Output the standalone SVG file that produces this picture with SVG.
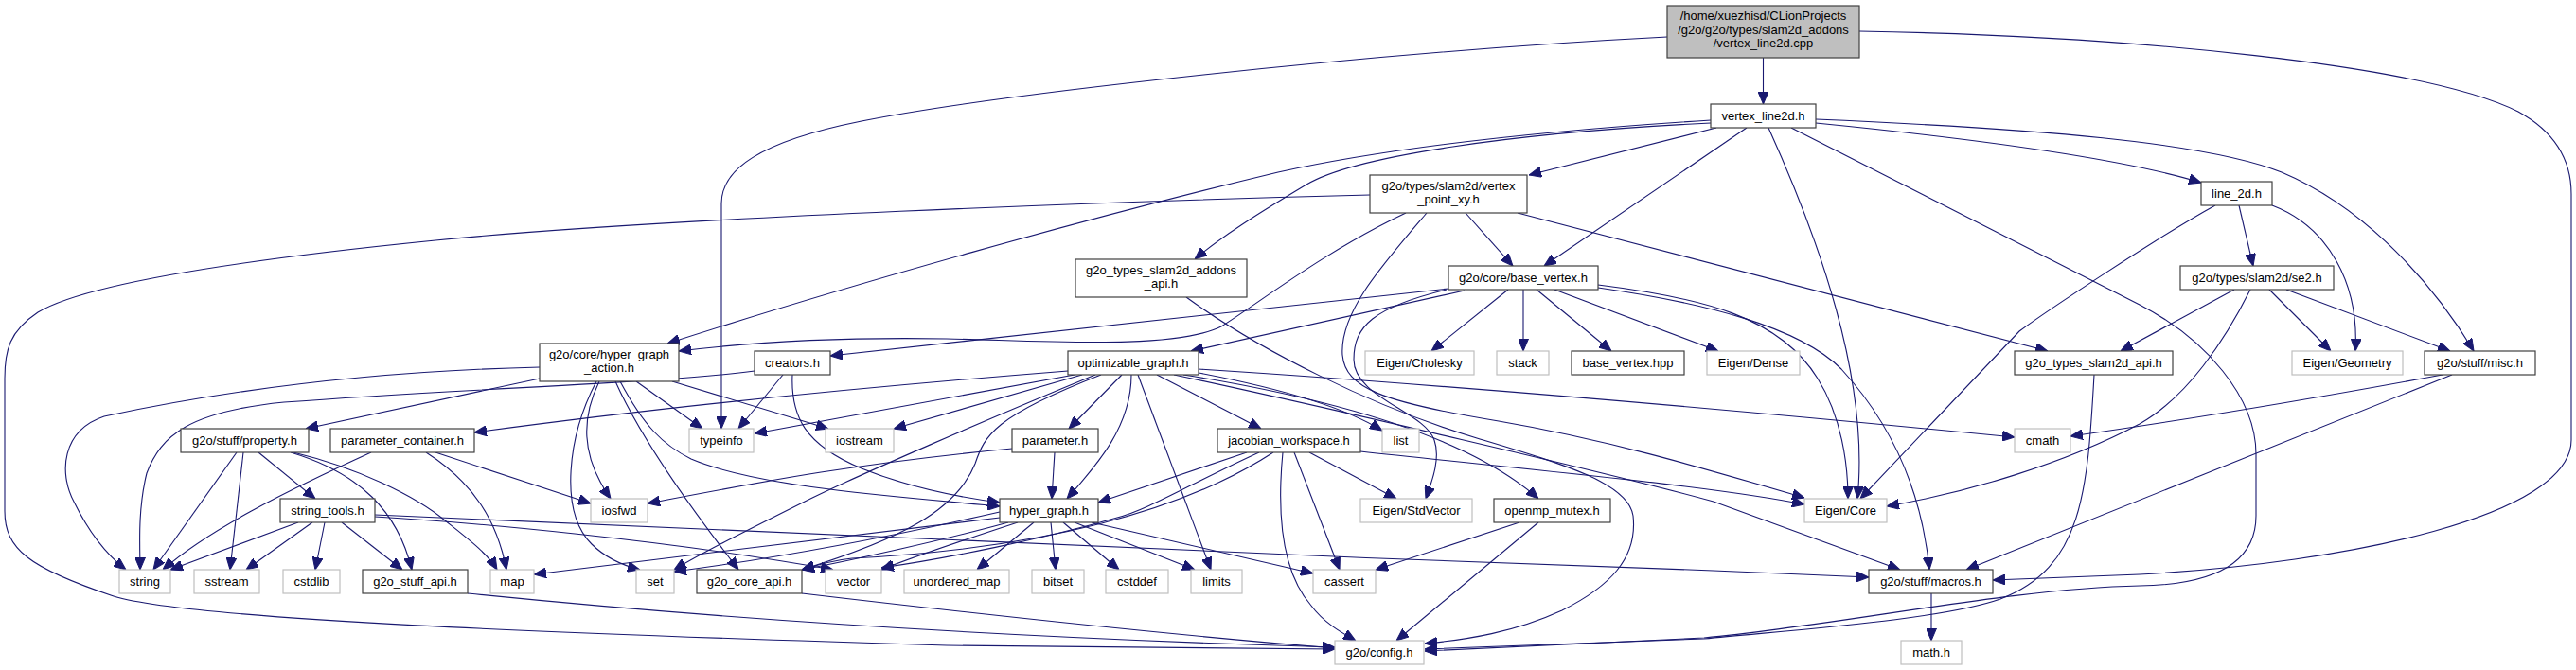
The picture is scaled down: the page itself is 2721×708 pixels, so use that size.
<svg xmlns="http://www.w3.org/2000/svg" width="2721" height="708" viewBox="0 0 2721 708">
<style>
rect{fill:#fff;stroke:#404040;stroke-width:1.2}
.g rect{stroke:#bfbfbf}
.r rect{fill:#bfbfbf;stroke:#404040}
text{font-family:"Liberation Sans",Arial,Helvetica,sans-serif;font-size:13px;text-anchor:middle;fill:#000}
#edges path{fill:none;stroke:#191970;stroke-width:1.1;marker-end:url(#ah)}
</style>
<defs>
<marker id="ah" viewBox="0 0 13 11" refX="13" refY="5.5" markerWidth="13" markerHeight="11" markerUnits="userSpaceOnUse" orient="auto"><path d="M0,0 L13,5.5 L0,11 z" fill="#191970" stroke="#191970" stroke-width="1"/></marker>
</defs>
<rect x="0" y="0" width="2721" height="708" style="fill:#fff;stroke:none"/>
<g id="edges">
<path d="M1862.5,61 L1862.5,110"/>
<path d="M1761,39 C1450,55 1050,100 910,128 C800,150 762,180 762,215 L762,453"/>
<path d="M1964,33 C2250,38 2560,68 2660,118 C2700,140 2716,170 2716,205 L2716,465 C2716,545 2480,595 2260,607 L2105,613"/>
<path d="M1813,135 L1615,185"/>
<path d="M1845,135 L1631,281"/>
<path d="M1807,127 C1600,140 1450,160 1350,182 C1150,230 900,300 705,363"/>
<path d="M1807,130 C1600,140 1430,165 1380,195 C1330,225 1290,250 1262,274"/>
<path d="M1868,135 C1920,250 1975,400 1962,527"/>
<path d="M1892,135 L2260,322 C2330,358 2383,420 2383,480 L2383,545 C2383,600 2330,618 2260,619 C2120,622 1950,660 1800,674 L1505,688"/>
<path d="M1918,130 C2100,148 2250,170 2325,193"/>
<path d="M1918,126 C2150,136 2330,150 2410,182 C2500,220 2570,300 2613,371"/>
<path d="M1447,206 C1200,212 700,230 460,254 C250,275 90,300 40,330 C10,350 5,370 5,400 L5,540 C5,580 30,600 120,630 C200,655 600,670 1000,682 L1410,686"/>
<path d="M1485,225 C1400,265 1330,320 1290,345 C1240,370 1100,360 1000,358 C880,356 790,362 717,371"/>
<path d="M1507,225 C1460,280 1415,330 1418,375 C1421,410 1460,425 1583,445 C1700,465 1800,495 1906,526"/>
<path d="M1548,225 L1598,281"/>
<path d="M1603,225 L2163,371"/>
<path d="M1253,314 C1330,370 1450,430 1560,463 C1650,490 1720,510 1725,545 C1730,590 1700,620 1650,645 C1600,668 1550,676 1505,680"/>
<path d="M1530,305 L877,376"/>
<path d="M1547,307 L1258,371"/>
<path d="M1528,306 C1450,325 1430,345 1430,380 C1430,420 1505,435 1515,465 C1522,485 1512,510 1506,527"/>
<path d="M1593,306 L1512,371"/>
<path d="M1609,306 L1609,371"/>
<path d="M1623,306 L1702,371"/>
<path d="M1642,306 L1815,371"/>
<path d="M1688,301 C1800,315 1880,335 1920,400 C1945,440 1952,490 1952,527"/>
<path d="M1688,304 C1800,320 1900,345 1945,390 C2000,450 2030,520 2038,602"/>
<path d="M2365,217 L2380,281"/>
<path d="M2400,217 C2460,240 2492,300 2488,371"/>
<path d="M2340,217 C2280,250 2160,330 2133,350 L1965,527"/>
<path d="M2360,306 L2240,371"/>
<path d="M2377,306 C2350,360 2310,420 2260,448 C2180,490 2080,520 1993,535"/>
<path d="M2397,306 L2462,371"/>
<path d="M2415,306 L2588,371"/>
<path d="M2212,396 C2205,520 2200,600 2113,633 C2050,655 1900,665 1800,675 L1505,686"/>
<path d="M2580,396 C2450,420 2300,445 2187,461"/>
<path d="M2590,396 L2077,602"/>
<path d="M2040,627 L2040,677"/>
<path d="M570,388 C400,392 250,410 110,440 C65,455 62,500 78,530 C95,565 115,588 133,602"/>
<path d="M570,400 L323,453"/>
<path d="M633,403 C615,440 612,480 645,527"/>
<path d="M630,403 C600,460 590,540 625,575 C640,590 660,598 676,602"/>
<path d="M650,403 C680,470 740,550 780,602"/>
<path d="M655,403 C680,450 700,470 730,485 C800,515 950,525 1056,535"/>
<path d="M672,403 L742,453"/>
<path d="M710,403 L875,453"/>
<path d="M827,396 L780,453"/>
<path d="M797,392 C700,405 500,410 300,425 C200,435 170,460 155,500 C145,540 148,580 148,602"/>
<path d="M837,396 C835,440 850,470 910,495 C960,515 1010,525 1056,531"/>
<path d="M1128,392 C900,410 700,430 501,457"/>
<path d="M1135,396 C1000,420 900,440 797,458"/>
<path d="M1143,396 L944,453"/>
<path d="M1157,396 C1050,440 900,505 850,530 C780,565 740,585 712,602"/>
<path d="M1163,396 C1050,440 1040,460 1030,490 C1010,540 950,570 847,602"/>
<path d="M1185,396 L1129,453"/>
<path d="M1195,396 C1195,450 1160,490 1127,527"/>
<path d="M1202,396 L1279,602"/>
<path d="M1222,396 L1332,453"/>
<path d="M1266,390 C1500,405 1800,430 2128,462"/>
<path d="M1266,394 C1350,410 1420,430 1460,455"/>
<path d="M1250,396 C1400,420 1550,460 1625,527"/>
<path d="M1240,396 C1400,430 1700,500 1810,530 L2007,602"/>
<path d="M392,478 C300,520 220,560 172,602"/>
<path d="M460,478 L624,532"/>
<path d="M450,478 C500,510 525,550 535,602"/>
<path d="M250,478 L162,602"/>
<path d="M257,478 L243,602"/>
<path d="M273,478 L333,527"/>
<path d="M307,478 C380,500 420,540 435,602"/>
<path d="M310,478 C380,495 440,525 470,550 C495,570 515,585 525,602"/>
<path d="M315,552 L180,602"/>
<path d="M330,552 L260,602"/>
<path d="M343,552 L333,602"/>
<path d="M361,552 L425,602"/>
<path d="M396,546 C500,552 700,570 880,602"/>
<path d="M396,544 C700,560 1300,585 1810,603 L1974,610"/>
<path d="M494,627 C700,648 1000,672 1410,684"/>
<path d="M847,627 C1000,645 1200,668 1410,685"/>
<path d="M1056,547 C950,560 700,590 564,607"/>
<path d="M1056,541 C950,565 820,590 712,604"/>
<path d="M1065,552 C1000,570 900,592 847,602"/>
<path d="M1075,552 C1020,570 960,590 931,602"/>
<path d="M1092,552 L1032,602"/>
<path d="M1110,552 L1115,602"/>
<path d="M1123,552 L1182,602"/>
<path d="M1135,552 L1262,602"/>
<path d="M1153,552 C1250,575 1320,590 1387,606"/>
<path d="M1317,478 L1160,531"/>
<path d="M1330,478 C1260,510 1210,540 1180,547 C1100,570 1000,590 931,600"/>
<path d="M1345,478 C1250,540 1100,580 900,590 C880,592 860,598 847,602"/>
<path d="M1355,478 C1350,530 1350,600 1385,640 C1400,660 1420,670 1432,677"/>
<path d="M1367,478 L1415,602"/>
<path d="M1383,478 L1475,527"/>
<path d="M1437,477 C1600,495 1800,512 1906,533"/>
<path d="M1069,474 C900,490 800,510 684,532"/>
<path d="M1114,478 L1111,527"/>
<path d="M1605,552 L1453,602"/>
<path d="M1625,552 L1475,677"/>
</g>
<g id="n-root" class="r"><rect x="1761" y="6" width="203" height="55"/><text x="1862.5" y="21">/home/xuezhisd/CLionProjects</text><text x="1862.5" y="35.7">/g2o/g2o/types/slam2d_addons</text><text x="1862.5" y="50.4">/vertex_line2d.cpp</text></g>
<g id="n-vline"><rect x="1807" y="110" width="111" height="25"/><text x="1862.5" y="127">vertex_line2d.h</text></g>
<g id="n-vpxy"><rect x="1447" y="185" width="166" height="40"/><text x="1530" y="201">g2o/types/slam2d/vertex</text><text x="1530" y="215">_point_xy.h</text></g>
<g id="n-line2d"><rect x="2325" y="192" width="75" height="25"/><text x="2362.5" y="209">line_2d.h</text></g>
<g id="n-addons"><rect x="1136" y="274" width="181" height="40"/><text x="1226.5" y="290">g2o_types_slam2d_addons</text><text x="1226.5" y="304">_api.h</text></g>
<g id="n-basevertex"><rect x="1530" y="281" width="158" height="25"/><text x="1609" y="298">g2o/core/base_vertex.h</text></g>
<g id="n-se2"><rect x="2303" y="281" width="162" height="25"/><text x="2384" y="298">g2o/types/slam2d/se2.h</text></g>
<g id="n-hga"><rect x="570" y="363" width="147" height="40"/><text x="643.5" y="379">g2o/core/hyper_graph</text><text x="643.5" y="393">_action.h</text></g>
<g id="n-creators"><rect x="797" y="371" width="80" height="25"/><text x="837" y="388">creators.h</text></g>
<g id="n-optg"><rect x="1128" y="371" width="138" height="25"/><text x="1197" y="388">optimizable_graph.h</text></g>
<g id="n-cholesky" class="g"><rect x="1442" y="371" width="115" height="25"/><text x="1499.5" y="388">Eigen/Cholesky</text></g>
<g id="n-stack" class="g"><rect x="1581" y="371" width="55" height="25"/><text x="1608.5" y="388">stack</text></g>
<g id="n-bvhpp"><rect x="1660" y="371" width="119" height="25"/><text x="1719.5" y="388">base_vertex.hpp</text></g>
<g id="n-dense" class="g"><rect x="1803" y="371" width="98" height="25"/><text x="1852" y="388">Eigen/Dense</text></g>
<g id="n-slam2dapi"><rect x="2128" y="371" width="167" height="25"/><text x="2211.5" y="388">g2o_types_slam2d_api.h</text></g>
<g id="n-geometry" class="g"><rect x="2421" y="371" width="117" height="25"/><text x="2479.5" y="388">Eigen/Geometry</text></g>
<g id="n-misc"><rect x="2561" y="371" width="117" height="25"/><text x="2619.5" y="388">g2o/stuff/misc.h</text></g>
<g id="n-property"><rect x="191" y="453" width="135" height="25"/><text x="258.5" y="470">g2o/stuff/property.h</text></g>
<g id="n-paramcont"><rect x="349" y="453" width="152" height="25"/><text x="425" y="470">parameter_container.h</text></g>
<g id="n-typeinfo" class="g"><rect x="728" y="453" width="68" height="25"/><text x="762" y="470">typeinfo</text></g>
<g id="n-iostream" class="g"><rect x="872" y="453" width="72" height="25"/><text x="908" y="470">iostream</text></g>
<g id="n-parameter"><rect x="1069" y="453" width="91" height="25"/><text x="1114.5" y="470">parameter.h</text></g>
<g id="n-jacobian"><rect x="1286" y="453" width="151" height="25"/><text x="1361.5" y="470">jacobian_workspace.h</text></g>
<g id="n-list" class="g"><rect x="1460" y="453" width="39" height="25"/><text x="1479.5" y="470">list</text></g>
<g id="n-cmath" class="g"><rect x="2128" y="453" width="59" height="25"/><text x="2157.5" y="470">cmath</text></g>
<g id="n-strtools"><rect x="296" y="527" width="100" height="25"/><text x="346" y="544">string_tools.h</text></g>
<g id="n-iosfwd" class="g"><rect x="624" y="527" width="60" height="25"/><text x="654" y="544">iosfwd</text></g>
<g id="n-hypergraph"><rect x="1056" y="527" width="104" height="25"/><text x="1108" y="544">hyper_graph.h</text></g>
<g id="n-stdvector" class="g"><rect x="1437" y="527" width="118" height="25"/><text x="1496" y="544">Eigen/StdVector</text></g>
<g id="n-openmp"><rect x="1578" y="527" width="123" height="25"/><text x="1639.5" y="544">openmp_mutex.h</text></g>
<g id="n-eigencore" class="g"><rect x="1906" y="527" width="87" height="25"/><text x="1949.5" y="544">Eigen/Core</text></g>
<g id="n-string" class="g"><rect x="126" y="602" width="54" height="25"/><text x="153" y="619">string</text></g>
<g id="n-sstream" class="g"><rect x="205" y="602" width="69" height="25"/><text x="239.5" y="619">sstream</text></g>
<g id="n-cstdlib" class="g"><rect x="299" y="602" width="60" height="25"/><text x="329" y="619">cstdlib</text></g>
<g id="n-stuffapi"><rect x="383" y="602" width="111" height="25"/><text x="438.5" y="619">g2o_stuff_api.h</text></g>
<g id="n-map" class="g"><rect x="518" y="602" width="46" height="25"/><text x="541" y="619">map</text></g>
<g id="n-set" class="g"><rect x="672" y="602" width="40" height="25"/><text x="692" y="619">set</text></g>
<g id="n-coreapi"><rect x="736" y="602" width="111" height="25"/><text x="791.5" y="619">g2o_core_api.h</text></g>
<g id="n-vector" class="g"><rect x="872" y="602" width="59" height="25"/><text x="901.5" y="619">vector</text></g>
<g id="n-umap" class="g"><rect x="955" y="602" width="111" height="25"/><text x="1010.5" y="619">unordered_map</text></g>
<g id="n-bitset" class="g"><rect x="1090" y="602" width="55" height="25"/><text x="1117.5" y="619">bitset</text></g>
<g id="n-cstddef" class="g"><rect x="1168" y="602" width="66" height="25"/><text x="1201" y="619">cstddef</text></g>
<g id="n-limits" class="g"><rect x="1258" y="602" width="54" height="25"/><text x="1285" y="619">limits</text></g>
<g id="n-cassert" class="g"><rect x="1387" y="602" width="66" height="25"/><text x="1420" y="619">cassert</text></g>
<g id="n-macros"><rect x="1974" y="602" width="131" height="25"/><text x="2039.5" y="619">g2o/stuff/macros.h</text></g>
<g id="n-config" class="g"><rect x="1410" y="677" width="94" height="25"/><text x="1457" y="694">g2o/config.h</text></g>
<g id="n-mathh" class="g"><rect x="2008" y="677" width="64" height="25"/><text x="2040" y="694">math.h</text></g>
</svg>
